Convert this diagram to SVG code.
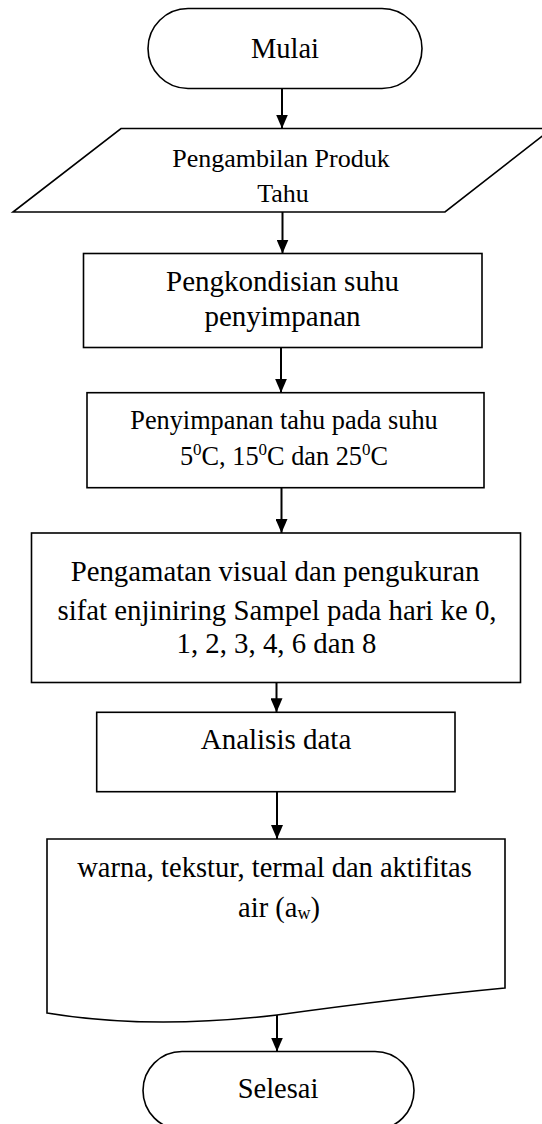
<svg xmlns="http://www.w3.org/2000/svg" width="542" height="1124" viewBox="0 0 542 1124">
<style>
.shape{fill:#ffffff;stroke:#000000;stroke-width:1.6}
.conn{stroke:#000000;stroke-width:2;fill:none}
.t{font-family:"Liberation Serif","Times New Roman",serif;fill:#000000;text-anchor:middle}
</style>
<defs>
<marker id="arr" viewBox="0 0 14 12" refX="14" refY="6" markerWidth="14" markerHeight="12" markerUnits="userSpaceOnUse" orient="auto">
<path d="M0,0 L14,6 L0,12 Z" fill="#000000"/>
</marker>
</defs>
<rect width="542" height="1124" fill="#ffffff"/>
<g id="connectors">
<line class="conn" x1="282" y1="88.5" x2="282" y2="128.5" marker-end="url(#arr)"/>
<line class="conn" x1="282.5" y1="212" x2="282.5" y2="253.5" marker-end="url(#arr)"/>
<line class="conn" x1="281" y1="347.5" x2="281" y2="392.7" marker-end="url(#arr)"/>
<line class="conn" x1="281.5" y1="487.7" x2="281.5" y2="533" marker-end="url(#arr)"/>
<line class="conn" x1="276.5" y1="682.5" x2="276.5" y2="712.3" marker-end="url(#arr)"/>
<line class="conn" x1="277" y1="791.7" x2="277" y2="839" marker-end="url(#arr)"/>
<line class="conn" x1="277" y1="1015" x2="277" y2="1051.5" marker-end="url(#arr)"/>
</g>
<g id="mulai">
<rect class="shape" x="148" y="8.5" width="274" height="80" rx="40" ry="40"/>
<text class="t" x="285" y="58" font-size="28.5">Mulai</text>
</g>
<g id="pengambilan">
<polygon class="shape" points="121,128.5 552,128.5 445,212 13,212"/>
<text class="t" x="281" y="166.5" font-size="26">Pengambilan Produk</text>
<text class="t" x="283" y="201.5" font-size="26">Tahu</text>
</g>
<g id="pengkondisian">
<rect class="shape" x="83.5" y="253.5" width="398.5" height="94"/>
<text class="t" x="282.5" y="291" font-size="29">Pengkondisian suhu</text>
<text class="t" x="282.5" y="326" font-size="29">penyimpanan</text>
</g>
<g id="penyimpanan">
<rect class="shape" x="87" y="392.7" width="397" height="95"/>
<text class="t" x="284" y="429" font-size="26.3">Penyimpanan tahu pada suhu</text>
<text class="t" x="284" y="465" font-size="26.3">5<tspan font-size="17" dy="-10">0</tspan><tspan dy="10">C, 15</tspan><tspan font-size="17" dy="-10">0</tspan><tspan dy="10">C dan 25</tspan><tspan font-size="17" dy="-10">0</tspan><tspan dy="10">C</tspan></text>
</g>
<g id="pengamatan">
<rect class="shape" x="31.5" y="533" width="489" height="149.5"/>
<text class="t" x="275" y="581" font-size="28.8">Pengamatan visual dan pengukuran</text>
<text class="t" x="277" y="620" font-size="28.8">sifat enjiniring Sampel pada hari ke 0,</text>
<text class="t" x="276.5" y="653" font-size="28.8">1, 2, 3, 4, 6 dan 8</text>
</g>
<g id="analisis">
<rect class="shape" x="96.7" y="712.3" width="358.3" height="79.4"/>
<text class="t" x="276" y="749" font-size="29">Analisis data</text>
</g>
<g id="hasil">
<path class="shape" d="M47,839 H505 V988 Q400,998 277,1015 Q150,1030 47,1013 Z"/>
<text class="t" x="274.5" y="877.3" font-size="28.5">warna, tekstur, termal dan aktifitas</text>
<text class="t" x="279" y="917.3" font-size="28.5">air (a<tspan font-size="18" dy="2">w</tspan><tspan dy="-2">)</tspan></text>
</g>
<g id="selesai">
<rect class="shape" x="143" y="1051.5" width="271" height="78" rx="39" ry="39"/>
<text class="t" x="278" y="1098" font-size="28.5">Selesai</text>
</g>
</svg>
